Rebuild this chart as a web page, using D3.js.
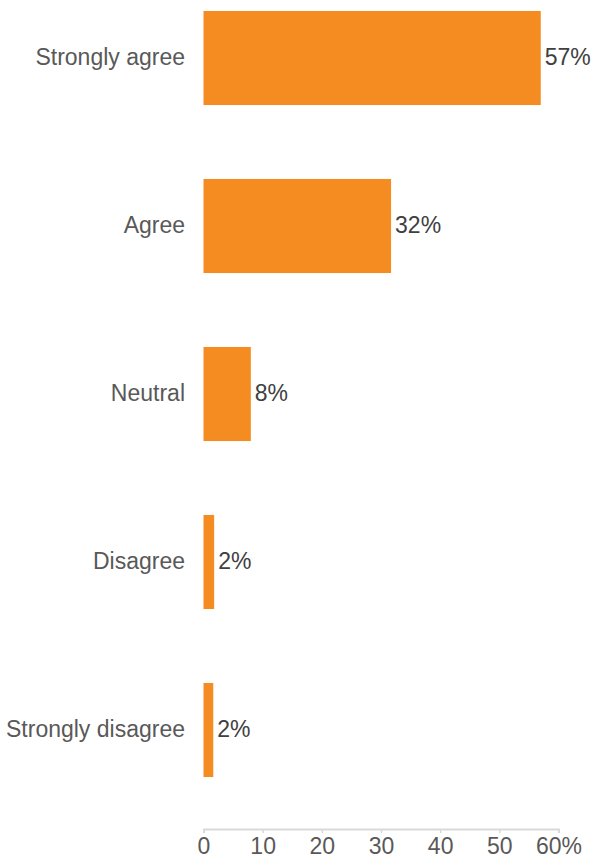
<!DOCTYPE html>
<html>
<head>
<meta charset="utf-8">
<script src="https://cdn.jsdelivr.net/npm/d3@7"></script>
<style>
  body { margin: 0; background: #fff; }
  svg { display: block; font-family: "Liberation Sans", Arial, sans-serif; }
</style>
</head>
<body>
<div id="chart"></div>
<script>
const categories = ["Strongly agree", "Agree", "Neutral", "Disagree", "Strongly disagree"];
const values = [57, 31.7, 8, 1.8, 1.65];
const valueLabels = ["57%", "32%", "8%", "2%", "2%"];
const tickValues = [0, 10, 20, 30, 40, 50, 60];

const width = 592;
const height = 858;
const orange = "#f58c21";
const fontSize = 23;

const svg = d3
  .select("#chart")
  .append("svg")
  .attr("width", width)
  .attr("height", height);

const x = d3.scaleLinear().domain([0, 60]).range([203.5, 558.5]);
const y = d3
  .scaleBand()
  .domain(categories)
  .range([-26, 814])
  .paddingInner(0.44)
  .paddingOuter(0.22);

// bars
svg
  .append("g")
  .selectAll("rect")
  .data(categories)
  .join("rect")
  .attr("x", x(0))
  .attr("y", (d) => y(d))
  .attr("width", (d, i) => x(values[i]) - x(0))
  .attr("height", y.bandwidth())
  .attr("fill", orange);

// value labels
svg
  .append("g")
  .selectAll("text")
  .data(categories)
  .join("text")
  .attr("x", (d, i) => x(values[i]) + 4)
  .attr("y", (d) => y(d) + y.bandwidth() / 2)
  .attr("dy", "0.3em")
  .attr("font-size", fontSize)
  .attr("fill", "#404040")
  .text((d, i) => valueLabels[i]);

// category labels
svg
  .append("g")
  .selectAll("text")
  .data(categories)
  .join("text")
  .attr("x", 185)
  .attr("y", (d) => y(d) + y.bandwidth() / 2)
  .attr("dy", "0.3em")
  .attr("text-anchor", "end")
  .attr("font-size", fontSize)
  .attr("fill", "#595959")
  .text((d) => d);

// x axis
const xAxis = svg
  .append("g")
  .attr("transform", "translate(0,829)")
  .call(
    d3
      .axisBottom(x)
      .tickValues(tickValues)
      .tickSize(4)
      .tickPadding(5)
      .tickFormat((d) => (d === 60 ? "60%" : d))
  );
xAxis.select(".domain").attr("stroke", "#d9d9d9").attr("stroke-width", 2);
xAxis.selectAll(".tick line").attr("stroke", "#d9d9d9").attr("stroke-width", 1.5);
xAxis
  .selectAll(".tick text")
  .attr("font-size", fontSize)
  .attr("font-family", "Liberation Sans, Arial, sans-serif")
  .attr("fill", "#595959");
</script>
</body>
</html>
